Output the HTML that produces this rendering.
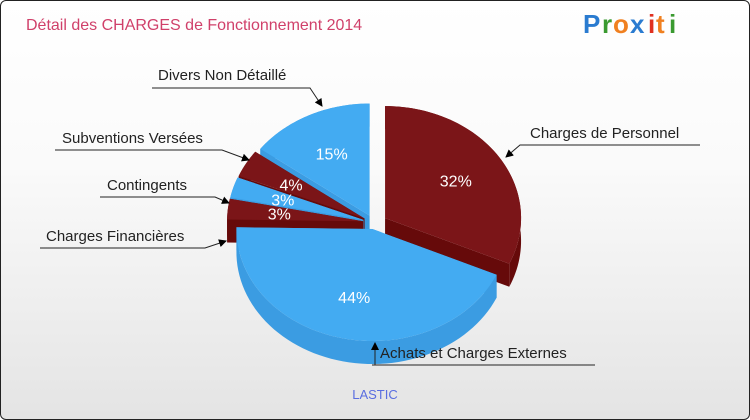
<!DOCTYPE html>
<html><head><meta charset="utf-8"><style>
body{margin:0;width:750px;height:420px;overflow:hidden;font-family:"Liberation Sans",sans-serif}
#wrap{position:absolute;left:0;top:0;width:748px;height:418px;border:1px solid #222;border-radius:6px;background:linear-gradient(#fff,#fafafa 40%,#e4e4e4)}
</style></head><body>
<div id="wrap">
<svg id="svg" width="750" height="420" style="position:absolute;left:-1px;top:-1px">
<text x="26" y="30" font-size="16" fill="#d0406a">Détail des CHARGES de Fonctionnement 2014</text>
<g font-size="26" font-weight="bold" font-family="'Liberation Sans',sans-serif">
<text x="583" y="33" fill="#2a7bd0">P</text><text x="602" y="33" fill="#3a9a30">r</text><text x="613" y="33" fill="#f08020">o</text><text x="630" y="33" fill="#2a7bd0">x</text><text x="648" y="33" fill="#e03020">i</text><text x="656" y="33" fill="#f08020">t</text><text x="669" y="33" fill="#3a9a30">i</text></g>
<g id="pie"></g><g id="labels"></g>
<text x="375" y="399" font-size="13" fill="#5a6ee0" text-anchor="middle">LASTIC</text>
</svg></div>
<script>
const categories=["Charges de Personnel","Achats et Charges Externes","Charges Financières","Contingents","Subventions Versées","Divers Non Détaillé"];
const values=[32,44,3,3,4,15];
const tops=["#7b1518","#43abf2","#7b1518","#43abf2","#7b1518","#43abf2"];
const sides=["#660a0a","#3b9ce2","#660a0a","#3b9ce2","#660a0a","#3b9ce2"];
const NS="http://www.w3.org/2000/svg";
const cx=375,cy=222,rx=136,ry=112,depth=23,expl=12,start=-90;
const total=values.reduce((a,b)=>a+b,0);
const pie=document.getElementById('pie');
function pt(a,ox,oy,dy){const r=a*Math.PI/180;return [ox+rx*Math.cos(r),oy+ry*Math.sin(r)+(dy||0)];}
function mk(tag,attrs){const e=document.createElementNS(NS,tag);for(const k in attrs)e.setAttribute(k,attrs[k]);return e;}
let acc=start;const slices=[];
values.forEach((v,i)=>{const a0=acc,a1=acc+v/total*360;acc=a1;const m=(a0+a1)/2,mr=m*Math.PI/180;
slices.push({i,a0,a1,m,ox:cx+expl*Math.cos(mr),oy:cy+expl*0.6*Math.sin(mr)});});
function arc(s,a0,a1,dy,steps){const p=[];for(let k=0;k<=steps;k++){p.push(pt(a0+(a1-a0)*k/steps,s.ox,s.oy,dy));}return p;}
[...slices].sort((a,b)=>Math.sin(a.m*Math.PI/180)-Math.sin(b.m*Math.PI/180)).forEach(s=>{
const g=mk('g',{});


[s.a0,s.a1].forEach(a=>{const p=pt(a,s.ox,s.oy);const w=mk('polygon',{points:`${s.ox},${s.oy} ${p[0]},${p[1]} ${p[0]},${p[1]+depth} ${s.ox},${s.oy+depth}`,fill:sides[s.i]});g.appendChild(w);});
const top=arc(s,s.a0,s.a1,0,60),bot=arc(s,s.a0,s.a1,depth,60).reverse();
g.appendChild(mk('polygon',{points:top.concat(bot).map(p=>p.join(',')).join(' '),fill:sides[s.i]}));
g.appendChild(mk('polygon',{points:[[s.ox,s.oy]].concat(top).map(p=>p.join(',')).join(' '),fill:tops[s.i]}));
const lp=[s.ox+rx*0.62*Math.cos(s.m*Math.PI/180),s.oy+ry*0.62*Math.sin(s.m*Math.PI/180)];
const t=mk('text',{x:lp[0],y:lp[1]+6,'font-size':16,fill:'#fff','text-anchor':'middle'});t.textContent=values[s.i]+'%';


g.appendChild(t);pie.appendChild(g);});
const callouts=[[0,530,138,520,700,145,506,157],[1,380,358,372,595,365,375,343],[2,46,241,40,205,248,226,241],[3,107,190,100,215,197,229,203],[4,62,143,55,222,150,249,160],[5,158,80,152,310,88,322,106]];
const L=document.getElementById('labels');
L.appendChild(mk('defs',{})).innerHTML='<marker id="ar" markerWidth="8" markerHeight="8" refX="7" refY="4" orient="auto" markerUnits="userSpaceOnUse"><path d="M0,0L8,4L0,8z" fill="#000"/></marker>';
callouts.forEach(c=>{const [i,tx,ty,x1,x2,ly,ax,ay]=c;const g=mk('g',{});


const right=tx>375&&i!==1;const jx=i===1?ax:(right?x1:x2);
g.appendChild(mk('polyline',{points:`${i===1?x2:(right?x2:x1)},${ly} ${jx},${ly} ${ax},${ay}`,fill:'none',stroke:'#222','stroke-width':1,'marker-end':'url(#ar)'}));
if(i===1)g.appendChild(mk('line',{x1:x1,y1:ly,x2:x2,y2:ly,stroke:'#222'}));
const t=mk('text',{x:tx,y:ty,'font-size':15,fill:'#222'});t.textContent=categories[i];g.appendChild(t);L.appendChild(g);});
</script></body></html>
